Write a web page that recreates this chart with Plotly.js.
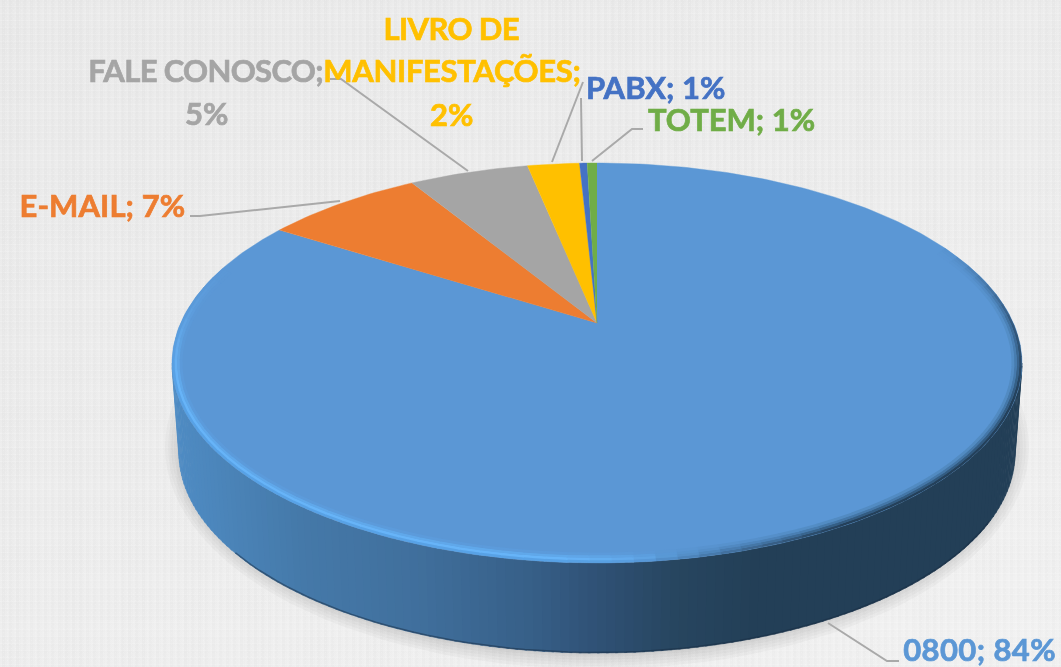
<!DOCTYPE html>
<html><head><meta charset="utf-8">
<script src="https://cdn.plot.ly/plotly-3.0.1.min.js"></script>
<style>
html,body{margin:0;padding:0;width:1061px;height:667px;overflow:hidden;}
body{background-color:#efefef;background-image:
 repeating-linear-gradient(90deg,rgba(255,255,255,.10) 0 2px,rgba(0,0,0,.008) 2px 5px,rgba(255,255,255,.03) 5px 7px),
 repeating-linear-gradient(0deg,rgba(0,0,0,.008) 0 2px,rgba(255,255,255,.09) 2px 3px,rgba(0,0,0,.004) 3px 7px),
 repeating-linear-gradient(90deg,rgba(0,0,0,.005) 0 23px,rgba(255,255,255,.015) 23px 61px),
 repeating-linear-gradient(0deg,rgba(0,0,0,.005) 0 31px,rgba(255,255,255,.015) 31px 47px),
 linear-gradient(160deg,#ebebeb 0%,#eeeeee 50%,#f3f3f3 100%);}
#chart{width:1061px;height:667px;filter:blur(0.55px);}
</style></head><body><div id="chart"></div>
<script>
// Data
const categories = ["0800","E-MAIL","FALE CONOSCO","LIVRO DE MANIFESTAÇÕES","PABX","TOTEM"];
const values = [84.0, 7.3, 5.5, 2.4, 0.35, 0.45];
const percentLabels = [84, 7, 5, 2, 1, 1];
const colors = ["#5b97d5","#ed7d31","#a5a5a5","#ffc000","#4472c4","#70ad47"];

// Label layout: text lines built from categories, anchor, x, y, tracking of each line
const labelLines = [
  {i:0, text:c=>c[0]+"; "+c[1]+"%", x:903, y:649, a:"left", ls:0.4},
  {i:1, text:c=>c[0]+"; "+c[1]+"%", x:18, y:205, a:"left", ls:0.1},
  {i:2, text:c=>c[0]+";", x:82, y:70, a:"left", ls:-0.66},
  {i:2, text:c=>c[1]+"%", x:206, y:113, a:"center", ls:0},
  {i:3, text:c=>c[0].split(" ").slice(0,2).join(" "), x:451, y:28, a:"center", ls:-0.65},
  {i:3, text:c=>c[0].split(" ")[2]+";", x:452, y:70, a:"center", ls:-0.33},
  {i:3, text:c=>c[1]+"%", x:451, y:114, a:"center", ls:0},
  {i:4, text:c=>c[0]+"; "+c[1]+"%", x:584, y:87, a:"left", ls:0},
  {i:5, text:c=>c[0]+"; "+c[1]+"%", x:646, y:119, a:"left", ls:0}
];
const leaders = [
  [[899,661],[887,661],[828,623]],
  [[190,216],[200,216],[340,201]],
  [[330,79],[341,79],[468,171]],
  [[583,82],[552,162]],
  [[581,98],[582,161]],
  [[643,129],[632,129],[592,161]]
];

// tracking has to be in place before Plotly measures the labels
const st=document.createElement("style");
st.textContent=labelLines.map((L,n)=>`.annotation[data-index="${n}"] .annotation-text{letter-spacing:${L.ls}px;}`).join("\n");
document.head.appendChild(st);

// Projection of the pie disc on to the page
const cx=597, apexY=323, A=416.4, B=192, k=-0.2;
const proj=(deg,r=1)=>{const t=deg*Math.PI/180,u=r*Math.sin(t),v=-r*Math.cos(t),d=1+k*v;return [cx+A*u/d, apexY+B*v/d];};
const topE={cy:363,a:425,b:200}, botE={cy:453,a:418,b:200};
const ell=(E,phi,d=0)=>{const t=phi*Math.PI/180;return [cx+(E.a-d)*Math.cos(t),E.cy+(E.b-d)*Math.sin(t)];};

const hex=c=>[1,3,5].map(i=>parseInt(c.substr(i,2),16));
const mix=(a,b,w)=>a.map((v,i)=>v+(b[i]-v)*w);
const rgb=c=>"rgb("+c.map(Math.round).join(",")+")";
const ramp=(st,x)=>{if(x<=st[0][0])return st[0][1];for(let i=1;i<st.length;i++){if(x<=st[i][0]){const w=(x-st[i-1][0])/(st[i][0]-st[i-1][0]);return st[i-1][1]+(st[i][1]-st[i-1][1])*w;}}return st[st.length-1][1];};

const traces=[];
const poly=(pts,fill,lw)=>traces.push({type:"scatter",mode:"lines",x:pts.map(p=>p[0]),y:pts.map(p=>p[1]),fill:"toself",fillcolor:fill,line:{color:fill,width:lw||0},hoverinfo:"skip",showlegend:false});
const path=(pts,color,w)=>traces.push({type:"scatter",mode:"lines",x:pts.map(p=>p[0]),y:pts.map(p=>p[1]),line:{color:color,width:w},hoverinfo:"skip",showlegend:false});

// soft shadow under the disc
[16,13,10,7,4,2].forEach(d=>{
  const pts=[];for(let p=0;p<360;p+=3){const t=p*Math.PI/180;pts.push([cx+(416+d)*Math.cos(t),447+(206+d)*Math.sin(t)]);}
  poly(pts,"rgba(0,0,0,0.028)");
});

// side wall, shaded strip by strip
const sideStops=[[171,"#4f8cc4"],[300,"#4579a9"],[420,"#406f9c"],[540,"#365e86"],[600,"#2f5175"],[680,"#27455f"],[760,"#233f57"],[1030,"#233f57"]].map(s=>[s[0],hex(s[1])]);
const sideColor=x=>{for(let i=1;i<sideStops.length;i++){if(x<=sideStops[i][0]){return rgb(mix(sideStops[i-1][1],sideStops[i][1],(x-sideStops[i-1][0])/(sideStops[i][0]-sideStops[i-1][0])));}}return rgb(sideStops[0][1]);};
for(let p=180;p>0;p-=1.25){
  const p2=p-1.6;
  const a=ell(topE,p),b=ell(topE,Math.max(p2,0)),c=ell(botE,Math.max(p2,0)),d=ell(botE,p);
  poly([a,b,c,d],sideColor((a[0]+b[0])/2),0.5);
}
// dark lower edge
{const pts=[];for(let p=150;p>=20;p-=2)pts.push(ell(botE,p,0.5));path(pts,"rgba(24,44,66,0.5)",1.5);}

// top face wedges from the values
const total=values.reduce((a,b)=>a+b,0);
let cum=0;
values.forEach((v,i)=>{
  const s=cum/total*360,e=(cum+v)/total*360;cum+=v;
  const pts=[[cx,apexY]];const n=Math.max(2,Math.ceil((e-s)));
  for(let j=0;j<=n;j++)pts.push(proj(s+(e-s)*j/n));
  poly(pts,colors[i],0.4);
});

// bevel on the rim
const face=hex(colors[0]);
const layers=[
  {d:1.5,l:"#58a2e6",q:"#24405a"},
  {d:4.0,l:"#67b4f8",q:"#335c82"},
  {d:6.5,l:"#60a8ea",q:"#4477a8"},
  {d:9.0,l:"#5c9bdb",q:"#528bc2"}
];
const hw=[[-30,0],[70,0],[95,1],[175,1],[195,.3],[208,0]];
const qw=[[-35,0],[-12,.7],[10,1],[55,1],[85,.0],[222,0]];
layers.forEach(L=>{
  const lc=hex(L.l),qc=hex(L.q);
  for(let p=-35;p<208;p+=3){
    const m=p+1.5,h=ramp(hw,m),q=ramp(qw,m);
    const c=mix(mix(face,lc,h),qc,q);
    if(h<=0&&q<=0)continue;
    path([ell(topE,p,L.d),ell(topE,m,L.d),ell(topE,p+3.2,L.d)],rgb(c),2.8);
  }
});

const annotations=labelLines.map(L=>({
  xref:"x",yref:"y",x:L.x,y:L.y,xanchor:L.a,yanchor:"middle",showarrow:false,
  text:L.text([categories[L.i],percentLabels[L.i]]),
  font:{family:"Lato, Carlito, sans-serif",size:31,weight:700,color:colors[L.i]}
}));
const shapes=leaders.map(pts=>({type:"path",xref:"x",yref:"y",
  path:pts.map((p,i)=>(i?"L":"M")+p[0]+" "+p[1]).join(" "),
  line:{color:"#a9a9a9",width:2}}));

Plotly.newPlot("chart",traces,{
  width:1061,height:667,margin:{l:0,r:0,t:0,b:0},
  paper_bgcolor:"rgba(0,0,0,0)",plot_bgcolor:"rgba(0,0,0,0)",showlegend:false,
  xaxis:{range:[0,1061],visible:false,fixedrange:true},
  yaxis:{range:[667,0],visible:false,fixedrange:true},
  annotations,shapes
},{displayModeBar:false,staticPlot:true}).then(()=>{
  document.querySelectorAll(".annotation-text").forEach(t=>{
    t.style.stroke=t.style.fill;t.style.strokeWidth="0.7px";
  });
});
</script></body></html>
